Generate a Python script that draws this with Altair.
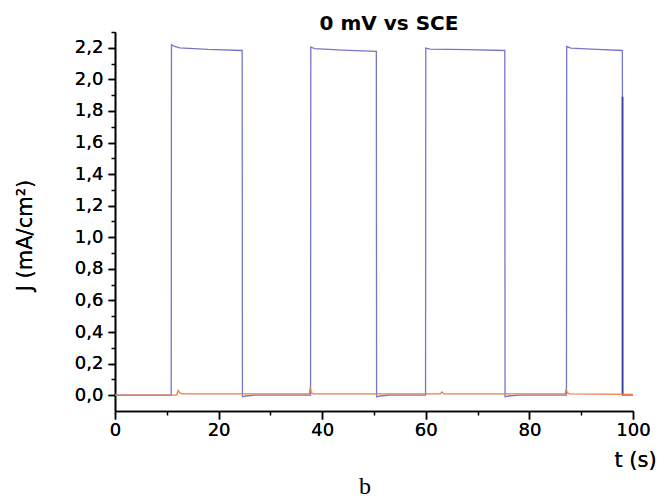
import altair as alt
import pandas as pd

# ---- data ----
blue_t = [0, 10.85, 10.9, 11.4, 12.5, 18, 24.55, 24.6, 25.2, 27, 37.75,
          37.8, 38.5, 44, 50.45, 50.5, 51.2, 53, 59.95,
          60.0, 60.8, 68, 75.25, 75.3, 76, 78, 87.15,
          87.2, 88, 93, 97.95, 98.0, 100]
blue_j = [0.0, 0.0, 2.22, 2.21, 2.20, 2.19, 2.183, -0.01, -0.005, 0.0, 0.0,
          2.205, 2.195, 2.185, 2.177, -0.01, -0.005, 0.0, 0.0,
          2.198, 2.192, 2.188, 2.183, -0.01, -0.005, 0.0, 0.0,
          2.208, 2.198, 2.19, 2.183, 0.0, 0.0]

spike_t = [97.98]
spike_top = [1.89]
spike_bot = [0.0]

orange_t = [0, 11.9, 12.2, 12.5, 13, 37.5, 37.7, 37.9, 38.3, 62.8, 63.1, 63.5,
            86.9, 87.1, 87.3, 87.7, 100]
orange_j = [0.0, 0.0, 0.03, 0.015, 0.008, 0.008, 0.05, 0.015, 0.008, 0.008, 0.02, 0.008,
            0.008, 0.04, 0.015, 0.008, 0.005]

title_text = ["0 mV vs SCE"]
caption_text = ["b"]

x_major = [0, 20, 40, 60, 80, 100]
x_minor = [10, 30, 50, 70, 90]
y_major = [0.0, 0.2, 0.4, 0.6, 0.8, 1.0, 1.2, 1.4, 1.6, 1.8, 2.0, 2.2]
y_minor = [0.1, 0.3, 0.5, 0.7, 0.9, 1.1, 1.3, 1.5, 1.7, 1.9, 2.1, 2.3]

blue_df = pd.DataFrame({"t": blue_t, "J": blue_j})
spike_df = pd.DataFrame({"t": spike_t, "top": spike_top, "bot": spike_bot})
orange_df = pd.DataFrame({"t": orange_t, "J": orange_j})
title_df = pd.DataFrame({"txt": title_text})
cap_df = pd.DataFrame({"txt": caption_text})

FONT = "DejaVu Sans"

xscale = alt.Scale(domain=[0, 100], nice=False, zero=False)
yscale = alt.Scale(domain=[-0.1, 2.3], nice=False, zero=False)

x_axis = alt.Axis(
    values=x_major, orient="bottom",
    tickSize=8, labelPadding=2, labelOverlap=False, labelFlush=False,
    labelFont=FONT, labelFontSize=18, labelColor="black",
    domainColor="black", domainWidth=1.6, tickColor="black", tickWidth=1.5,
    grid=False,
    title="t (s)", titleFont=FONT, titleFontSize=21, titleFontWeight="normal",
    titleColor="black", titleX=520, titleY=49, titleAlign="center",
    titleBaseline="middle", titleAnchor="start",
)
y_axis = alt.Axis(
    values=y_major, orient="left",
    labelExpr="replace(format(datum.value, '.1f'), '.', ',')",
    tickSize=7, labelPadding=5, labelOverlap=False, labelFlush=False,
    labelFont=FONT, labelFontSize=18, labelColor="black",
    domainColor="black", domainWidth=1.6, tickColor="black", tickWidth=1.5,
    grid=False,
    title="J (mA/cm²)", titleFont=FONT, titleFontSize=21, titleFontWeight="normal",
    titleColor="black", titleX=-90, titleY=203, titleAlign="center",
    titleBaseline="middle", titleAnchor="start",
)
x_minor_axis = alt.Axis(
    values=x_minor, orient="bottom", labels=False, domain=False, grid=False,
    tickSize=4, tickColor="black", tickWidth=1.5, title=None,
)
y_minor_axis = alt.Axis(
    values=y_minor, orient="left", labels=False, domain=False, grid=False,
    tickSize=4, tickColor="black", tickWidth=1.5, title=None,
)

blue = alt.Chart(blue_df).mark_line(color="#7676c8", strokeWidth=1.3).encode(
    x=alt.X("t:Q", scale=xscale, axis=x_axis),
    y=alt.Y("J:Q", scale=yscale, axis=y_axis),
    order="t:Q",
)
spike = alt.Chart(spike_df).mark_rule(color="#3b3f9e", strokeWidth=1.8).encode(
    x=alt.X("t:Q", scale=xscale, axis=x_axis),
    y=alt.Y("top:Q", scale=yscale, axis=y_axis),
    y2="bot:Q",
)
orange = alt.Chart(orange_df).mark_line(color="#f07a48", strokeWidth=1.3).encode(
    x=alt.X("t:Q", scale=xscale, axis=x_minor_axis),
    y=alt.Y("J:Q", scale=yscale, axis=y_minor_axis),
    order="t:Q",
)
title = alt.Chart(title_df).mark_text(
    font=FONT, fontSize=20, fontWeight="bold", color="black",
    align="center", baseline="alphabetic",
).encode(x=alt.value(274), y=alt.value(-2), text="txt:N")
caption = alt.Chart(cap_df).mark_text(
    font="Liberation Serif", fontSize=24, color="black",
    align="center", baseline="alphabetic",
).encode(x=alt.value(250), y=alt.value(462), text="txt:N")

chart = alt.layer(blue, spike, orange, title, caption).resolve_axis(
    x="independent", y="independent"
).properties(
    width=518, height=379,
    background="white",
    autosize=alt.AutoSizeParams(type="none"),
    padding={"left": 115, "top": 32, "right": 25, "bottom": 88},
).configure_view(stroke=None)

chart.save("out.html", embed_options={"renderer": "svg", "actions": False})
